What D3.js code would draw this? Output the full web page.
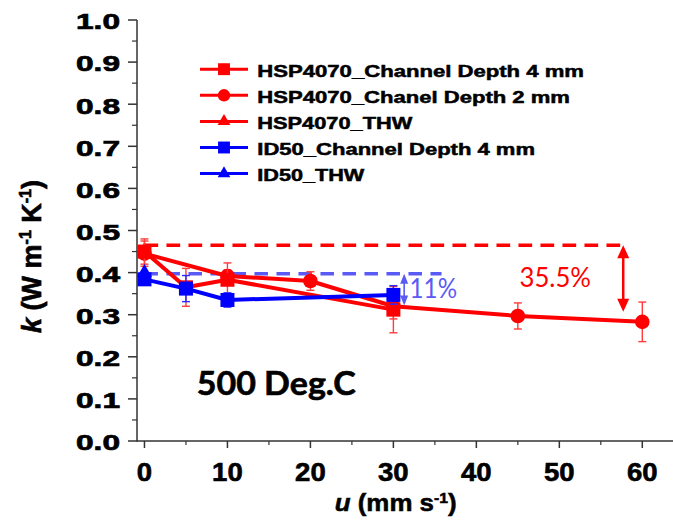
<!DOCTYPE html>
<html>
<head>
<meta charset="utf-8">
<script src="https://cdn.jsdelivr.net/npm/d3@7"></script>
<style>
  body { margin: 0; background: #fff; }
  svg { display: block; }
</style>
</head>
<body>
<svg id="chart" width="673" height="520"></svg>
<script>
// Thermal conductivity k against flow speed u, measured at 500 Deg.C

// HSP4070, channel depth 4 mm (squares)
const uHspDepth4 = [0, 5, 10, 30];
const kHspDepth4 = [0.450, 0.365, 0.383, 0.312];
const eHspDepth4 = [0.030, 0.045, 0.040, 0.055];

// HSP4070, channel depth 2 mm (circles)
const uHspDepth2 = [0, 10, 20, 30, 45, 60];
const kHspDepth2 = [0.445, 0.392, 0.380, 0.320, 0.297, 0.283];
const eHspDepth2 = [0.030, 0.014, 0.022, 0.030, 0.031, 0.047];

// HSP4070, transient hot wire (triangle)
const uHspThw = [0];
const kHspThw = [0.452];

// ID50, channel depth 4 mm (squares)
const uIdDepth4 = [0, 5, 10, 30];
const kIdDepth4 = [0.384, 0.362, 0.335, 0.347];
const eIdDepth4 = [0.008, 0.031, 0.017, 0.022];

// ID50, transient hot wire (triangle)
const uIdThw = [0];
const kIdThw = [0.400];

const xTickValues = [0, 10, 20, 30, 40, 50, 60];
const xMinorValues = [5, 15, 25, 35, 45, 55];
const yTickValues = [0, 0.1, 0.2, 0.3, 0.4, 0.5, 0.6, 0.7, 0.8, 0.9, 1.0];
const yMinorValues = [0.05, 0.15, 0.25, 0.35, 0.45, 0.55, 0.65, 0.75, 0.85, 0.95];

const legendLabels = [
  "HSP4070_Channel Depth 4 mm",
  "HSP4070_Chanel Depth 2 mm",
  "HSP4070_THW",
  "ID50_Channel Depth 4 mm",
  "ID50_THW"
];

// reduction annotations
const hspRefK = 0.465, hspLowK = 0.307, hspArrowU = 57.7, hspLabel = "35.5%";
const idRefK = 0.397, idLowK = 0.322, idArrowU = 31.3, idRefEndU = 35.8, idLabel = "11%";
const tempLabel = "500 Deg.C";

const RED = "#ff0000", BLUE = "#0000ff", LIGHTBLUE = "#5a5af5";
const SANS = "'Liberation Sans', Arial, sans-serif";
const HUMAN = "Lato, 'Open Sans', sans-serif";

const svg = d3.select("#chart");

const x = d3.scaleLinear().domain([-0.9, 63.7]).range([137, 673]);
const y = d3.scaleLinear().domain([0, 1]).range([441, 20]);

// heavier strokes on bold text
function heavy(sel, color, w) {
  return sel.attr("stroke", color).attr("stroke-width", w).attr("paint-order", "stroke");
}

// ---------- axes ----------
const axisColor = "#333";

const gx = svg.append("g").attr("transform", `translate(0,${y(0)})`);
gx.append("line").attr("x1", x.range()[0]).attr("x2", x.range()[1])
  .attr("stroke", axisColor).attr("stroke-width", 1.5);
gx.selectAll(".maj").data(xTickValues).join("line")
  .attr("x1", d => x(d)).attr("x2", d => x(d)).attr("y1", 0).attr("y2", 7)
  .attr("stroke", axisColor).attr("stroke-width", 1.5);
gx.selectAll(".min").data(xMinorValues).join("line")
  .attr("x1", d => x(d)).attr("x2", d => x(d)).attr("y1", 0).attr("y2", 4)
  .attr("stroke", axisColor).attr("stroke-width", 1.2);
heavy(gx.selectAll("text").data(xTickValues).join("text")
  .attr("x", d => x(d)).attr("y", 39.5)
  .attr("text-anchor", "middle")
  .attr("font-family", SANS).attr("font-weight", "bold").attr("font-size", 25)
  .attr("textLength", d => String(d).length * 15.3)
  .attr("lengthAdjust", "spacingAndGlyphs")
  .text(d => d), "#000", 0.6);

const gy = svg.append("g").attr("transform", `translate(${x.range()[0]},0)`);
gy.append("line").attr("y1", y(1)).attr("y2", y(0) + 0.75)
  .attr("stroke", axisColor).attr("stroke-width", 1.5);
gy.selectAll(".maj").data(yTickValues).join("line")
  .attr("y1", d => y(d)).attr("y2", d => y(d)).attr("x1", 0).attr("x2", -9)
  .attr("stroke", axisColor).attr("stroke-width", 1.5);
gy.selectAll(".min").data(yMinorValues).join("line")
  .attr("y1", d => y(d)).attr("y2", d => y(d)).attr("x1", 0).attr("x2", -5)
  .attr("stroke", axisColor).attr("stroke-width", 1.2);
heavy(gy.selectAll("text").data(yTickValues).join("text")
  .attr("x", -17).attr("y", d => y(d) + 9.3)
  .attr("text-anchor", "end")
  .attr("font-family", SANS).attr("font-weight", "bold").attr("font-size", 22.5)
  .attr("textLength", 44).attr("lengthAdjust", "spacingAndGlyphs")
  .text(d => d3.format(".1f")(d)), "#000", 0.7);

// stretch a text node so that it spans the given width
function fitWidth(node, width, cx, cy, rotate, sy) {
  const w = node.node().getComputedTextLength();
  const sx = width / w;
  node.attr("transform", `translate(${cx},${cy}) rotate(${rotate}) scale(${sx},${sy})`);
}

// axis titles
const xTitle = heavy(svg.append("text")
  .attr("text-anchor", "middle")
  .attr("font-family", SANS).attr("font-weight", "bold").attr("font-size", 23), "#000", 0.5);
xTitle.append("tspan").attr("font-style", "italic").text("u");
xTitle.append("tspan").text(" (mm s");
xTitle.append("tspan").attr("baseline-shift", "super").attr("font-size", 14).text("-1");
xTitle.append("tspan").text(")");
fitWidth(xTitle, 122, 395.7, 510.5, 0, 1.05);

const yTitle = heavy(svg.append("text")
  .attr("text-anchor", "middle")
  .attr("font-family", SANS).attr("font-weight", "bold").attr("font-size", 22), "#000", 0.5);
yTitle.append("tspan").attr("font-style", "italic").text("k");
yTitle.append("tspan").text(" (W m");
yTitle.append("tspan").attr("baseline-shift", "super").attr("font-size", 13).text("-1");
yTitle.append("tspan").text(" K");
yTitle.append("tspan").attr("baseline-shift", "super").attr("font-size", 13).text("-1");
yTitle.append("tspan").text(")");
fitWidth(yTitle, 153, 40.5, 256.5, -90, 1.25);

// ---------- reference lines and reduction arrows ----------
svg.append("line")
  .attr("x1", x(0)).attr("x2", x(hspArrowU) - 2)
  .attr("y1", y(hspRefK)).attr("y2", y(hspRefK))
  .attr("stroke", RED).attr("stroke-width", 3.5).attr("stroke-dasharray", "13.7 8.3");

svg.append("line")
  .attr("x1", x(0)).attr("x2", x(idRefEndU))
  .attr("y1", y(idRefK)).attr("y2", y(idRefK))
  .attr("stroke", LIGHTBLUE).attr("stroke-width", 3.5).attr("stroke-dasharray", "13.5 8.5");

function doubleArrow(u, kTop, kBottom, color, lw, headW, headL) {
  const ax = x(u), yt = y(kTop), yb = y(kBottom);
  const g = svg.append("g");
  g.append("line").attr("x1", ax).attr("x2", ax)
    .attr("y1", yt + headL - 1).attr("y2", yb - headL + 1)
    .attr("stroke", color).attr("stroke-width", lw);
  g.append("path").attr("fill", color)
    .attr("d", `M${ax},${yt} L${ax - headW / 2},${yt + headL} L${ax + headW / 2},${yt + headL} Z`);
  g.append("path").attr("fill", color)
    .attr("d", `M${ax},${yb} L${ax - headW / 2},${yb - headL} L${ax + headW / 2},${yb - headL} Z`);
}
doubleArrow(hspArrowU, hspRefK, hspLowK, RED, 2.5, 12, 13);
doubleArrow(idArrowU, idRefK, idLowK, LIGHTBLUE, 1.6, 8, 10);

svg.append("text")
  .attr("x", x(45.2)).attr("y", y(0.3665))
  .attr("font-family", HUMAN).attr("font-size", 27).attr("fill", RED)
  .attr("textLength", 71.5).attr("lengthAdjust", "spacingAndGlyphs")
  .text(hspLabel);

svg.append("text")
  .attr("x", x(31.95)).attr("y", y(0.339))
  .attr("font-family", HUMAN).attr("font-size", 27).attr("fill", LIGHTBLUE)
  .attr("textLength", 47.5).attr("lengthAdjust", "spacingAndGlyphs")
  .text(idLabel);

heavy(svg.append("text")
  .attr("x", x(6.3)).attr("y", y(0.109))
  .attr("font-family", HUMAN).attr("font-weight", "bold").attr("font-size", 32).attr("fill", "#000")
  .attr("textLength", 159).attr("lengthAdjust", "spacingAndGlyphs")
  .text(tempLabel), "#000", 0.6);

// ---------- data series ----------
const SQ = 14, CR = 7.3, TW = 15, TH = 13;

function markerPath(shape, cx, cy, scale = 1) {
  if (shape === "square") {
    const h = SQ * scale / 2;
    return `M${cx - h},${cy - h}h${2 * h}v${2 * h}h${-2 * h}Z`;
  }
  if (shape === "triangle") {
    const w = TW * scale, h = TH * scale;
    return `M${cx},${cy - h * 2 / 3}L${cx + w / 2},${cy + h / 3}L${cx - w / 2},${cy + h / 3}Z`;
  }
  const r = CR * scale;
  return `M${cx - r},${cy}a${r},${r} 0 1,0 ${2 * r},0a${r},${r} 0 1,0 ${-2 * r},0Z`;
}

function drawSeries(us, ks, errs, color, errColor, shape) {
  const pts = us.map((u, i) => ({ u, k: ks[i], e: errs ? errs[i] : 0 }));
  const g = svg.append("g");
  if (pts.length > 1) {
    g.append("path").datum(pts)
      .attr("fill", "none").attr("stroke", color).attr("stroke-width", 4)
      .attr("stroke-linejoin", "round")
      .attr("d", d3.line().x(d => x(d.u)).y(d => y(d.k)));
  }
  if (errs) {
    const eb = g.selectAll(".err").data(pts).join("g").attr("stroke", errColor).attr("stroke-width", 1.4);
    eb.append("line").attr("x1", d => x(d.u)).attr("x2", d => x(d.u))
      .attr("y1", d => y(d.k + d.e)).attr("y2", d => y(d.k - d.e));
    eb.append("line").attr("x1", d => x(d.u) - 4).attr("x2", d => x(d.u) + 4)
      .attr("y1", d => y(d.k + d.e)).attr("y2", d => y(d.k + d.e));
    eb.append("line").attr("x1", d => x(d.u) - 4).attr("x2", d => x(d.u) + 4)
      .attr("y1", d => y(d.k - d.e)).attr("y2", d => y(d.k - d.e));
  }
  g.selectAll(".mk").data(pts).join("path")
    .attr("fill", color)
    .attr("d", d => markerPath(shape, x(d.u), y(d.k)));
}

drawSeries(uHspThw, kHspThw, null, RED, RED, "triangle");
drawSeries(uHspDepth2, kHspDepth2, eHspDepth2, RED, "#ff3b3b", "circle");
drawSeries(uHspDepth4, kHspDepth4, eHspDepth4, RED, "#ff3b3b", "square");
drawSeries(uIdThw, kIdThw, null, BLUE, BLUE, "triangle");
drawSeries(uIdDepth4, kIdDepth4, eIdDepth4, BLUE, "#2a2aff", "square");

// ---------- legend ----------
const legendShapes = ["square", "circle", "triangle", "square", "triangle"];
const legendColors = [RED, RED, RED, BLUE, BLUE];
const legendWidths = [326.7, 312.7, 155, 277.7, 107];
const legend = svg.append("g");
legendLabels.forEach((label, i) => {
  const base = 77 + i * 26.1;
  const cy = base - 7.8;
  legend.append("line").attr("x1", 200).attr("x2", 248).attr("y1", cy).attr("y2", cy)
    .attr("stroke", legendColors[i]).attr("stroke-width", 3);
  legend.append("path").attr("fill", legendColors[i])
    .attr("d", markerPath(legendShapes[i], 224, cy, 0.85));
  heavy(legend.append("text")
    .attr("x", 257.3).attr("y", base)
    .attr("font-family", SANS).attr("font-weight", "bold").attr("font-size", 16.5)
    .attr("textLength", legendWidths[i]).attr("lengthAdjust", "spacingAndGlyphs")
    .text(label), "#000", 0.5);
});
</script>
</body>
</html>
